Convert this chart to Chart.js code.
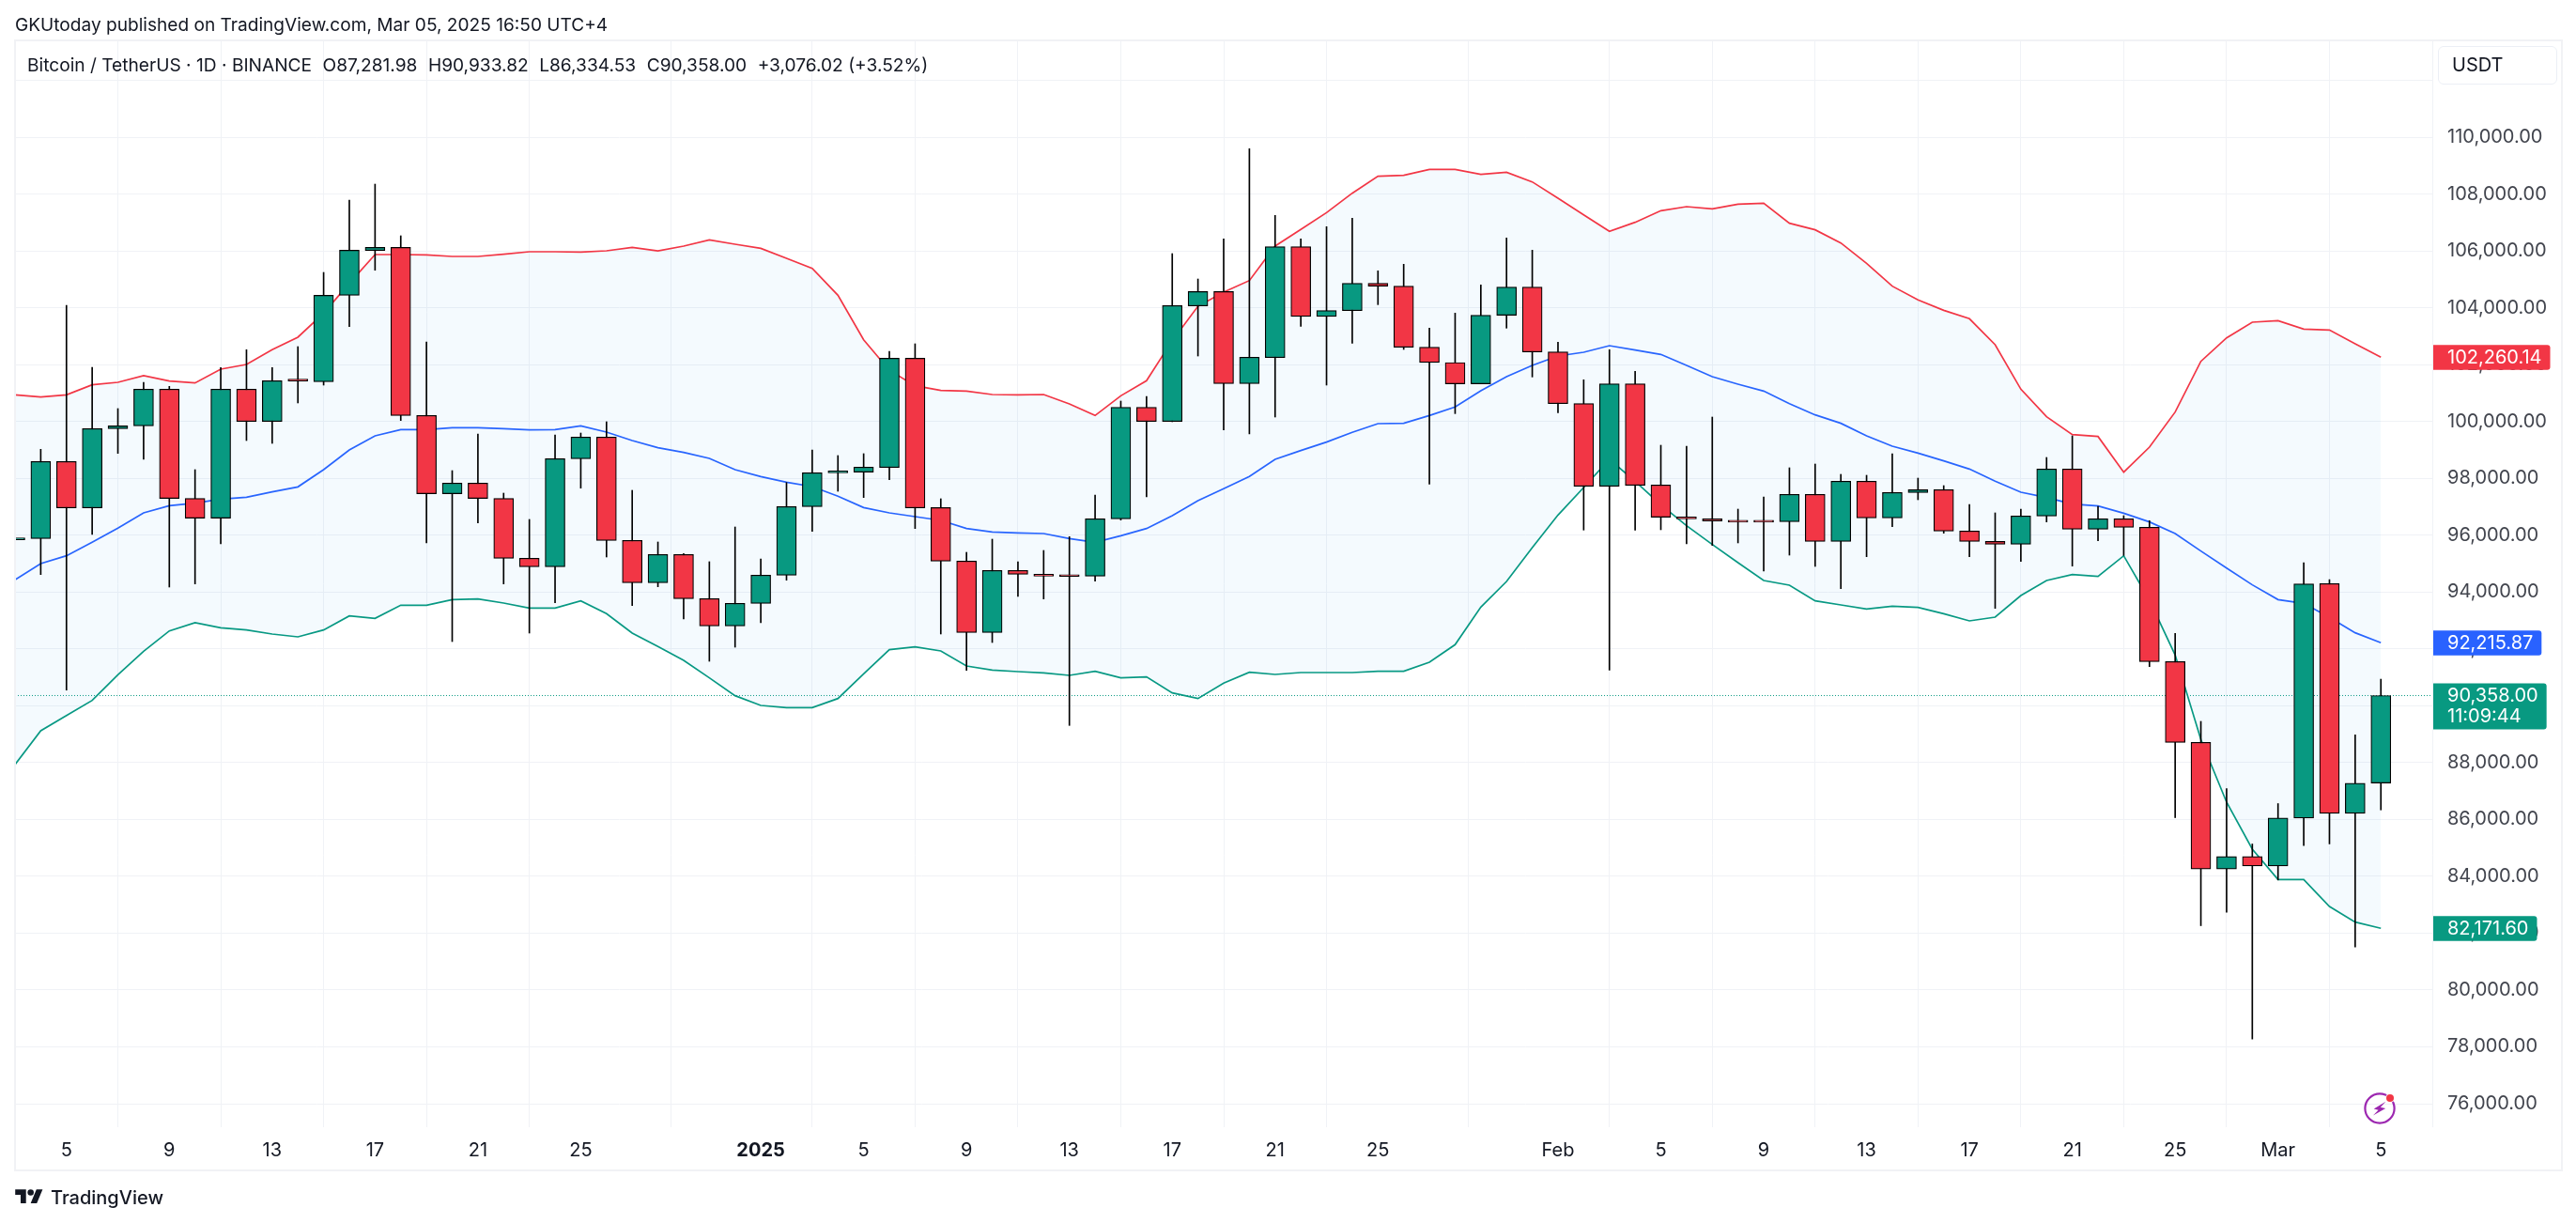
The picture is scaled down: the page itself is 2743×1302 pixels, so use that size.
<!DOCTYPE html>
<html>
<head>
<meta charset="utf-8">
<title>BTCUSDT 1D</title>
<style>
html,body{margin:0;padding:0;background:#fff;width:2743px;height:1302px;overflow:hidden;font-family:Inter,"Noto Sans",sans-serif;color:#131722}
canvas{position:absolute;left:0;top:0}
.abs{position:absolute;white-space:nowrap}
#frame{left:15px;top:42px;width:2710px;height:1201px;border:2px solid #f1f2f5}
#pub{left:16px;top:13px;font-size:19.1px;line-height:26px}
#leg{left:29px;top:56px;font-size:19.15px;line-height:26px}
#leg span{margin-left:11.5px}
#unit{left:2596px;top:49px;width:125px;height:39px;border:1px solid #eceff5;border-radius:6px;font-size:20px;line-height:39px;text-indent:14px}
#tv{left:54px;top:1260px;font-size:20px;line-height:30px;font-weight:500}
</style>
</head>
<body>
<canvas id="c" width="2743" height="1302"></canvas>
<div class="abs" id="frame"></div>
<div class="abs" id="pub">GKUtoday published on TradingView.com, Mar 05, 2025 16:50 UTC+4</div>
<div class="abs" id="leg">Bitcoin / TetherUS · 1D · BINANCE<span>O87,281.98</span><span>H90,933.82</span><span>L86,334.53</span><span>C90,358.00</span><span>+3,076.02 (+3.52%)</span></div>
<div class="abs" id="unit">USDT</div>
<svg class="abs" style="left:16px;top:1263px" width="30" height="23" viewBox="0 0 36 28"><path fill="#131722" d="M14 22H7V11H0V4h14v18zM28 22h-8l7.5-18h8L28 22z"/><circle fill="#131722" cx="20" cy="8" r="4"/></svg>
<div class="abs" id="tv">TradingView</div>
<svg class="abs" style="left:2514px;top:1160px" width="40" height="40" viewBox="0 0 40 40">
<circle cx="20" cy="20" r="15.6" fill="none" stroke="#9c27b0" stroke-width="2.2"/>
<path d="M24.5 11.5 14 22h5l-4 7 11-10.5h-5.5z" fill="#9c27b0" transform="rotate(14 20 20)"/>
<circle cx="31" cy="9" r="5" fill="#fff"/><circle cx="31" cy="9" r="4" fill="#f23645"/>
</svg>
<script src="https://cdn.jsdelivr.net/npm/chart.js@4/dist/chart.umd.min.js"></script>
<script>
const openPrices = [
95840,95881,98590,96960,99747,99846,101134,97291,96597,101134,
100000,101432,101398,104438,106013,106123,100209,97456,97830,97291,
95187,94890,98689,99449,95815,94328,95319,93766,92808,93601,
94592,97004,98194,98216,98381,102224,96970,95088,92577,94757,
94625,94559,94559,96575,100496,100000,104064,104570,101333,102247,
106146,103690,103899,104857,104758,102610,102071,101322,103734,104725,
102445,100628,97720,101322,97764,96630,96575,96498,96475,96476,
97434,95782,97896,96608,97500,97599,96145,95782,95683,96674,
98326,96211,96575,96277,91552,88711,84255,84696,84365,86050,
94295,86216,87281.98];
const highPrices = [
96321,99020,104085,101905,100452,101377,101234,98304,101894,102522,
101894,102632,105242,107786,108348,106531,102797,98270,99559,97478,
96553,99526,99592,99989,97577,95760,95352,95066,96288,95165,
97852,98998,98800,98866,102466,102731,97280,95396,95859,95066,
95462,95947,97412,100716,100881,105904,105011,106421,109593,107247,
106421,106851,107148,105298,105529,103282,103811,104802,106454,106025,
102787,101465,102522,101762,99163,99130,100154,96916,97346,98370,
98502,98139,98106,98866,98006,97742,97082,96784,96916,98733,
99493,97015,96685,96509,92544,89449,87086,85136,86557,95033,
94438,88975,90933.82];
const lowPrices = [
93623,94614,90550,96024,98877,98667,94174,94284,95694,99328,
99229,100650,101278,103337,105319,100033,95727,92257,96431,94284,
92555,93623,97654,95231,93524,94185,93050,91564,92059,92918,
94416,96134,97544,97324,97951,96233,92522,91244,92224,93843,
93755,89306,94383,96531,97346,99990,102301,99703,99559,100154,
103348,101278,102753,104108,102533,97797,100275,101322,103282,101564,
100308,96179,91255,96179,96190,95694,95639,95727,94735,95297,
94901,94119,95242,96299,97246,96068,95242,93425,95077,96464,
94911,95804,95286,91376,86062,82262,82735,78275,83870,85081,
85136,81513,86334.53];
const closePrices = [
95880,98590,96960,99747,99846,101134,97291,96597,101134,100000,
101432,101420,104438,106024,106123,100209,97456,97830,97291,95187,
94890,98689,99449,95815,94328,95319,93766,92808,93601,94592,
97004,98194,98210,98392,102224,96960,95088,92577,94757,94625,
94559,94545,96575,100496,100000,104075,104570,101333,102258,106146,
103690,103899,104857,104758,102610,102071,101322,103734,104725,102445,
100628,97720,101322,97753,96630,96575,96498,96460,96460,97434,
95782,97896,96608,97500,97599,96145,95782,95683,96674,98326,
96211,96575,96277,91552,88711,84255,84696,84365,86050,94283,
86216,87273,90358];
const upperBand = [
100936,100859,100936,101289,101377,101608,101421,101355,101839,102004,
102522,102963,103810,104857,105870,105870,105859,105804,105804,105881,
105969,105969,105958,106002,106123,106002,106167,106387,106233,106090,
105738,105385,104438,102874,101800,101256,101090,101068,100947,100936,
100947,100617,100209,100903,101432,102842,104050,104549,104956,106168,
106752,107346,108029,108624,108657,108866,108866,108690,108767,108426,
107853,107269,106686,107005,107412,107555,107478,107644,107677,106972,
106741,106278,105562,104758,104273,103910,103613,102698,101134,100165,
99537,99471,98216,99097,100330,102115,102941,103491,103546,103249,
103216,102731,102260.14];
const middleBand = [
94427,95000,95275,95749,96244,96784,97037,97125,97269,97335,
97522,97698,98304,98998,99493,99714,99714,99780,99780,99747,
99703,99714,99846,99626,99328,99075,98910,98700,98304,98062,
97863,97709,97368,96971,96784,96652,96520,96233,96112,96079,
96057,95881,95749,95980,96233,96685,97213,97632,98062,98667,
98976,99273,99615,99923,99934,100209,100507,101079,101575,101972,
102302,102434,102665,102511,102357,101972,101575,101311,101068,100628,
100231,99934,99493,99130,98888,98612,98326,97896,97511,97324,
97092,97026,96773,96465,96057,95440,94845,94251,93733,93601,
93105,92566,92215.87];
const lowerBand = [
87929,89118,89658,90187,91090,91916,92632,92918,92742,92665,
92521,92422,92665,93160,93072,93535,93535,93733,93755,93612,
93436,93436,93689,93237,92555,92081,91596,90980,90352,90010,
89933,89933,90253,91123,91971,92070,91927,91398,91255,91200,
91156,91068,91211,90980,91013,90451,90253,90792,91178,91101,
91167,91167,91167,91211,91211,91530,92147,93469,94372,95561,
96707,97676,98667,97896,97070,96332,95671,95033,94405,94240,
93689,93546,93403,93502,93458,93237,92984,93116,93876,94405,
94614,94548,95275,93711,91784,88810,86607,84955,83887,83887,
82939,82389,82171.60];
const xTickIndex = [2,6,10,14,18,22,29,33,37,41,45,49,53,60,64,68,72,76,80,84,88,92];
const xTickLabels = ['5','9','13','17','21','25','2025','5','9','13','17','21','25','Feb','5','9','13','17','21','25','Mar','5'];
const yTickValues = [76000,78000,80000,82000,84000,86000,88000,90000,92000,94000,96000,98000,100000,102000,104000,106000,108000,110000,112000];
const yUnlabelled = [112000];
const lastPrice = 90358;
const countdown = '11:09:44';
const upperLast = 102260.14, middleLast = 92215.87, lowerLast = 82171.60;
const yAxisMin = 75174, yAxisMax = 113404, xAxisMin = 0, xAxisMax = 94;

const UP = '#089981', DOWN = '#f23645', BLUE = '#2962ff', INK = '#131722';
const AXIS_FONT = 'Inter, "Noto Sans", sans-serif';
const pts = arr => arr.map((v, i) => ({x: i, y: v}));
const fmt = v => v.toLocaleString('en-US', {minimumFractionDigits: 2, maximumFractionDigits: 2});

const pills = {
  id: 'pills',
  afterDraw(chart) {
    const {ctx, scales: {y}, chartArea} = chart;
    const x0 = chartArea.right + 1, tx = 2606;
    ctx.save();
    ctx.font = '20px ' + AXIS_FONT;
    ctx.textBaseline = 'middle';
    ctx.textAlign = 'left';
    const draw = (val, color, extra) => {
      const label = fmt(val);
      const py = y.getPixelForValue(val);
      const w = tx - x0 + ctx.measureText(label).width + 9;
      const top = py - 13, h = extra ? 49 : 26.5;
      ctx.fillStyle = color;
      ctx.beginPath();
      ctx.roundRect(x0, top, w, h, [0, 3, 3, 0]);
      ctx.fill();
      ctx.fillStyle = '#fff';
      ctx.fillText(label, tx, py + 0.5);
      if (extra) ctx.fillText(extra, tx, py + 23);
    };
    draw(upperLast, DOWN);
    draw(middleLast, BLUE);
    draw(lowerLast, UP);
    draw(lastPrice, UP, countdown);
    ctx.restore();
  }
};

new Chart(document.getElementById('c'), {
  type: 'bar',
  plugins: [pills],
  data: {
    datasets: [
      {type: 'bar', label: 'wick', order: 2, grouped: false,
       data: highPrices.map((h, i) => ({x: i, y: [lowPrices[i], h]})),
       backgroundColor: '#000', borderWidth: 0, barThickness: 1},
      {type: 'bar', label: 'body', order: 1, grouped: false,
       data: closePrices.map((c, i) => ({x: i, y: [openPrices[i], c]})),
       backgroundColor: closePrices.map((c, i) => c >= openPrices[i] ? UP : DOWN),
       borderColor: '#000', borderWidth: 1.2, borderSkipped: false, barThickness: 21, minBarLength: 2},
      {type: 'line', label: 'upper', order: 3, data: pts(upperBand), borderColor: DOWN, borderWidth: 1.7,
       pointRadius: 0, tension: 0, fill: {target: 4}, backgroundColor: 'rgba(33,150,243,0.05)'},
      {type: 'line', label: 'basis', order: 4, data: pts(middleBand), borderColor: BLUE, borderWidth: 1.7,
       pointRadius: 0, tension: 0, fill: false},
      {type: 'line', label: 'lower', order: 5, data: pts(lowerBand), borderColor: UP, borderWidth: 1.7,
       pointRadius: 0, tension: 0, fill: false},
      {type: 'line', label: 'last', order: 6, data: [{x: xAxisMin, y: lastPrice}, {x: xAxisMax, y: lastPrice}],
       borderColor: UP, borderWidth: 1, borderDash: [1, 2], pointRadius: 0, fill: false}
    ]
  },
  options: {
    responsive: false,
    animation: false,
    events: [],
    layout: {padding: {left: 16, top: 43, right: 16, bottom: 57}},
    plugins: {legend: {display: false}, tooltip: {enabled: false}},
    scales: {
      x: {
        type: 'linear', min: xAxisMin, max: xAxisMax, offset: false,
        grid: {color: '#f0f2f6', lineWidth: 1, drawTicks: false},
        border: {display: false},
        afterBuildTicks: s => { s.ticks = xTickIndex.map(v => ({value: v})); },
        afterFit: s => { s.height = 45; s.paddingLeft = 0; s.paddingRight = 0; },
        ticks: {
          autoSkip: false, maxRotation: 0, minRotation: 0, padding: 13, color: INK,
          font: ctx => ({family: AXIS_FONT, size: 20, weight: ctx.tick && ctx.tick.label === '2025' ? '700' : '400'}),
          callback: v => xTickLabels[xTickIndex.indexOf(v)]
        }
      },
      y: {
        type: 'linear', position: 'right', min: yAxisMin, max: yAxisMax,
        grid: {color: '#f0f2f6', lineWidth: 1, drawTicks: false},
        border: {display: false},
        afterBuildTicks: s => { s.ticks = yTickValues.map(v => ({value: v})); },
        afterFit: s => { s.width = 137; s.paddingTop = 0; s.paddingBottom = 0; },
        ticks: {
          autoSkip: false, crossAlign: 'near', padding: 16, color: '#42454e',
          font: {family: AXIS_FONT, size: 20},
          callback: v => yUnlabelled.includes(v) ? '' : fmt(v)
        }
      }
    }
  }
});
</script>
</body>
</html>
